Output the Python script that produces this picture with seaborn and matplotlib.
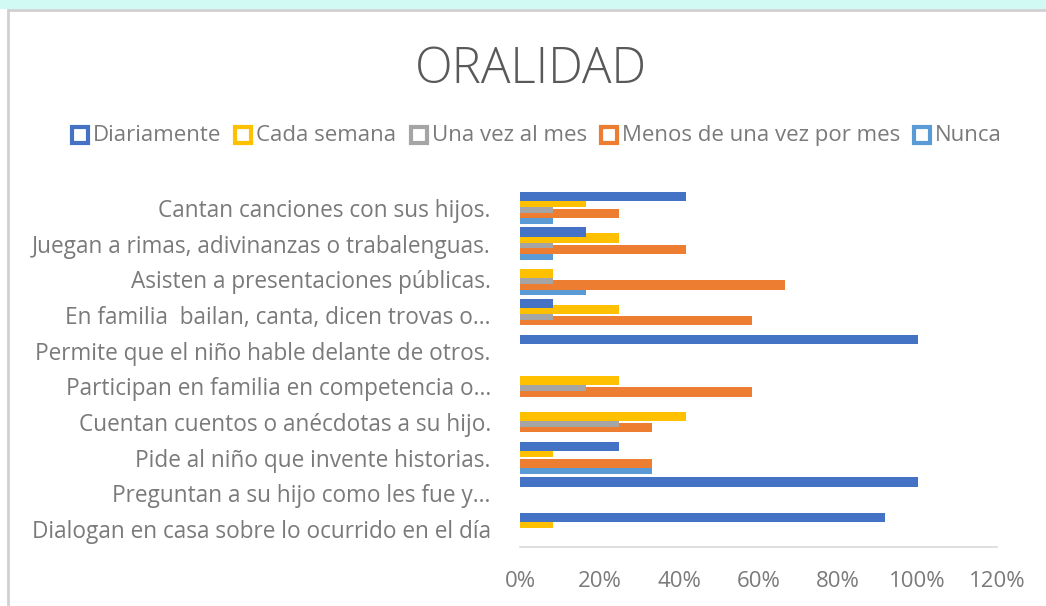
import numpy as np
import pandas as pd
import matplotlib
matplotlib.use('Agg')
import matplotlib.pyplot as plt
from matplotlib.lines import Line2D
from matplotlib.patches import Rectangle
import seaborn as sns

preguntas = ['Cantan canciones con sus hijos.',
             'Juegan a rimas, adivinanzas o trabalenguas.',
             'Asisten a presentaciones públicas.',
             'En familia  bailan, canta, dicen trovas o...',
             'Permite que el niño hable delante de otros.',
             'Participan en familia en competencia o...',
             'Cuentan cuentos o anécdotas a su hijo.',
             'Pide al niño que invente historias.',
             'Preguntan a su hijo como les fue y...',
             'Dialogan en casa sobre lo ocurrido en el día']

frecuencias = ['Diariamente', 'Cada semana', 'Una vez al mes',
               'Menos de una vez por mes', 'Nunca']

diariamente = [41.7, 16.7, 0, 8.3, 100, 0, 0, 25.0, 100, 91.7]
cada_semana = [16.7, 25.0, 8.3, 25.0, 0, 25.0, 41.7, 8.3, 0, 8.3]
una_vez_mes = [8.3, 8.3, 8.3, 8.3, 0, 16.7, 25.0, 0, 0, 0]
menos_mes = [25.0, 41.7, 66.7, 58.3, 0, 58.3, 33.3, 33.3, 0, 0]
nunca = [8.3, 8.3, 16.7, 0, 0, 0, 0, 33.3, 0, 0]

colores = ['#4472C4', '#FFC000', '#A5A5A5', '#ED7D31', '#5B9BD5']
xticks = [0, 20, 40, 60, 80, 100, 120]

df = pd.DataFrame({'pregunta': preguntas,
                   'Diariamente': diariamente,
                   'Cada semana': cada_semana,
                   'Una vez al mes': una_vez_mes,
                   'Menos de una vez por mes': menos_mes,
                   'Nunca': nunca})
largo = df.melt(id_vars='pregunta', var_name='frecuencia', value_name='valor')

sns.set_theme(style='white')
plt.rcParams['font.family'] = ['Open Sans', 'DejaVu Sans']
gris = '#7a7a7a'
W, H = 1046, 606

fig = plt.figure(figsize=(W / 100, H / 100), dpi=100)
fig.patch.set_facecolor('white')
# franja de fondo y borde del area del grafico (detras de los ejes)
fig.patches.append(Rectangle((0, 1 - 9 / H), 1, 9 / H, transform=fig.transFigure,
                             facecolor='#d2faf5', edgecolor='none', zorder=-5))
fig.patches.append(Rectangle((8 / W, -0.05), 1.1, 1.05 - 10 / H, transform=fig.transFigure,
                             facecolor='white', edgecolor='#d0d0d0', lw=2, zorder=-4))

ax = fig.add_axes([520 / W, 1 - 547 / H, 477 / W, 357 / H])
ax.set_facecolor('none')
sns.barplot(data=largo, y='pregunta', x='valor', hue='frecuencia', order=preguntas,
            hue_order=frecuencias, palette=colores, orient='h', width=0.8,
            saturation=1, legend=False, ax=ax, linewidth=0, errorbar=None)

# barras mas gruesas y solapadas, la primera serie encima
alto = 0.264
for i, cont in enumerate(ax.containers):
    for bar in cont:
        c = bar.get_y() + bar.get_height() / 2
        bar.set_height(alto)
        bar.set_y(c - alto / 2)
        bar.set_zorder(10 - i)

ax.set_xlim(0, 120)
ax.set_xticks(xticks)
ax.set_xticklabels([f'{v}%' for v in xticks])
ax.set_xlabel('')
ax.set_ylabel('')
for s in ['top', 'right', 'left']:
    ax.spines[s].set_visible(False)
ax.spines['bottom'].set_color('#d9d9d9')
ax.spines['bottom'].set_linewidth(1.2)
ax.tick_params(axis='y', length=0, pad=21, labelsize=16.3, labelcolor=gris)
ax.tick_params(axis='x', length=0, pad=17, labelsize=16, labelcolor=gris)

fig.text(531 / W, 1 - 83 / H, 'ORALIDAD', ha='center', va='baseline',
         fontsize=35.5, color='#595959', fontweight='light')

# leyenda dibujada a mano para que todos los textos compartan linea base
renderer = fig.canvas.get_renderer()
textos = []
for f in frecuencias:
    t = fig.text(0, 1 - 141 / H, f, fontsize=16, color=gris, va='baseline')
    textos.append(t)
anchos = [t.get_window_extent(renderer).width for t in textos]
marca, sep = 21, 14
total = sum(marca + a for a in anchos) + sep * (len(anchos) - 1)
x = 537 - total / 2
for t, a, c in zip(textos, anchos, colores):
    fig.add_artist(Line2D([(x + 8) / W], [1 - 135 / H], transform=fig.transFigure,
                          marker='s', linestyle='none', markersize=11,
                          markerfacecolor='white', markeredgecolor=c, markeredgewidth=3))
    t.set_x((x + marca) / W)
    x += marca + a + sep

fig.savefig('out.png', dpi=100)
